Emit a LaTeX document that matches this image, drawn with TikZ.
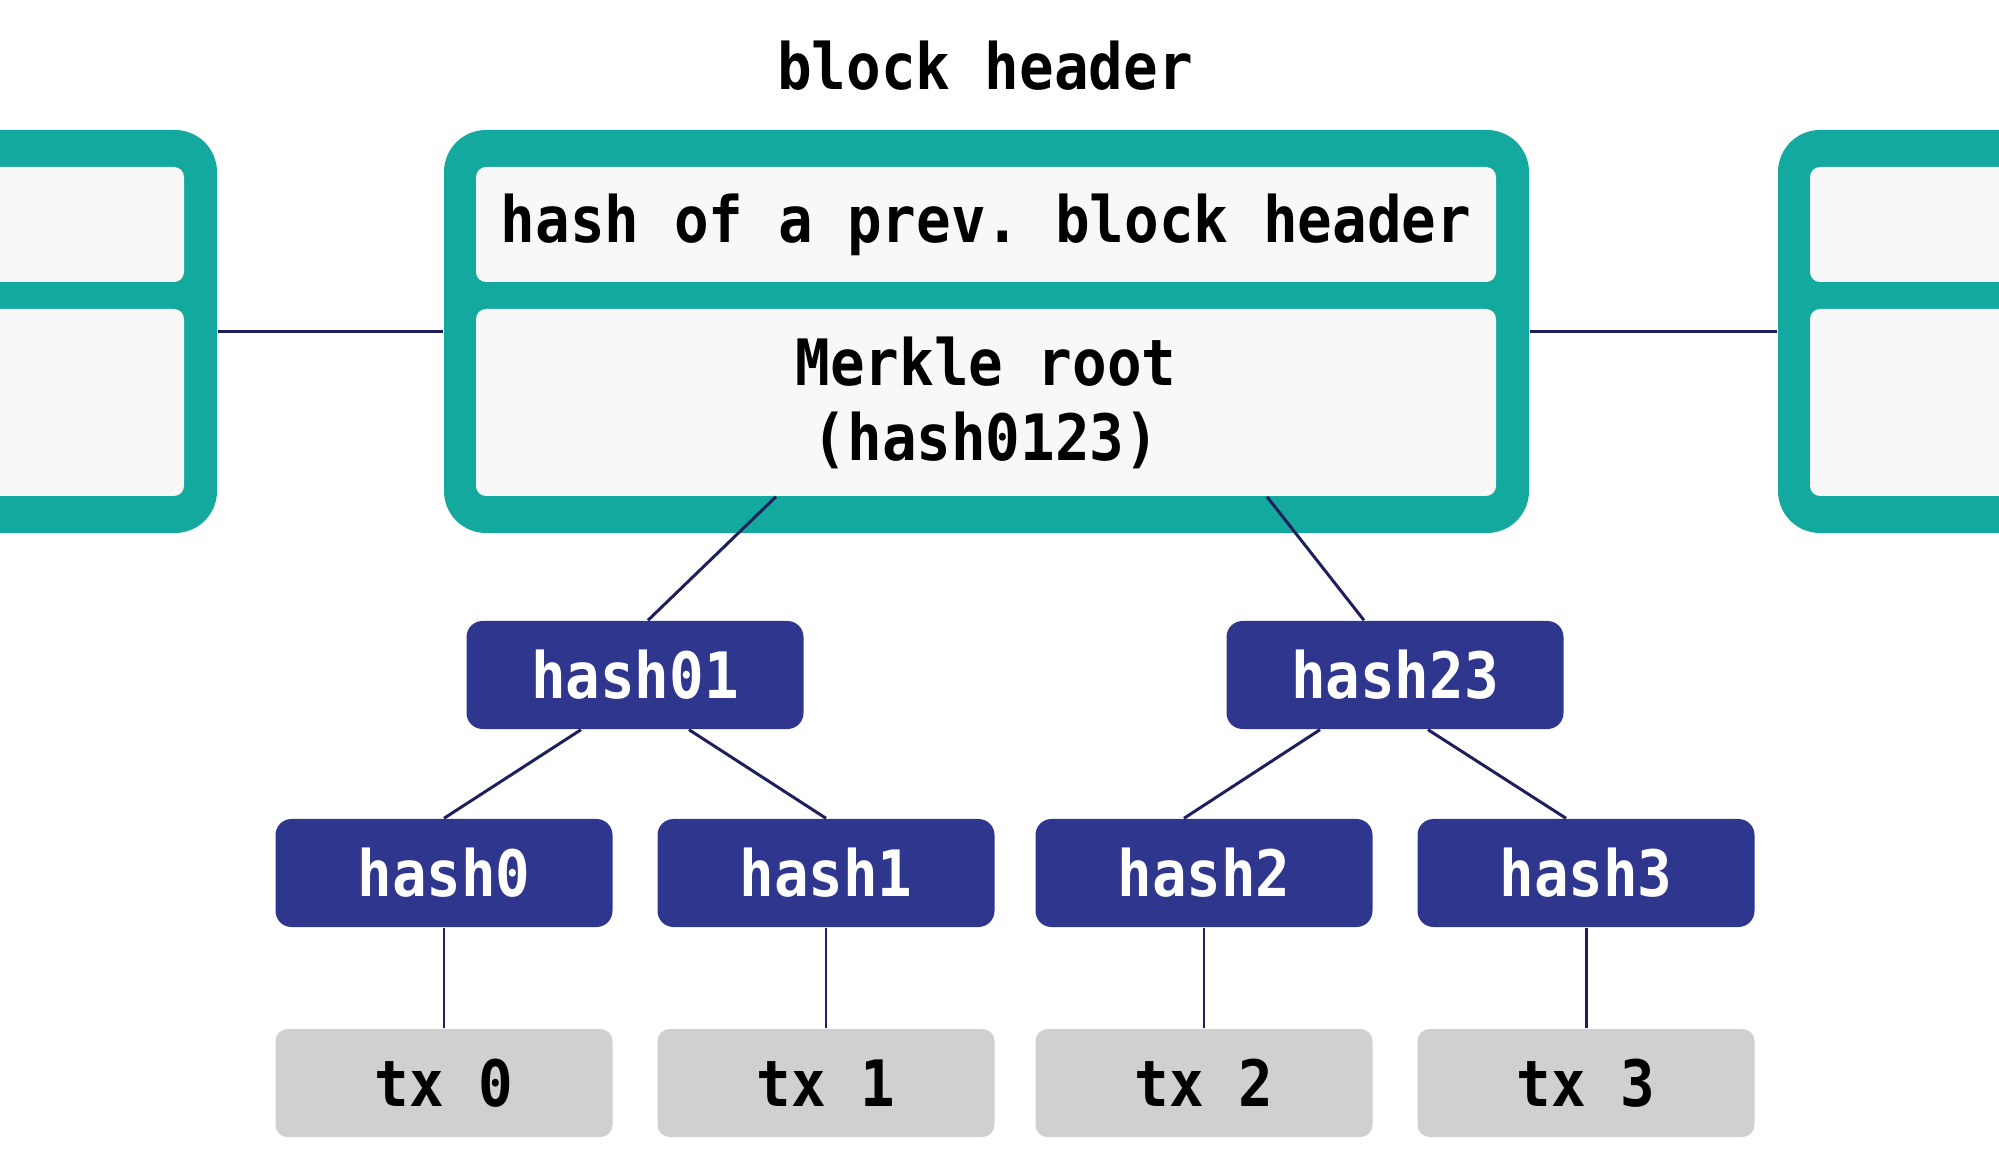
\documentclass[tikz,border=0pt]{standalone}
\usepackage{fontspec}
\setmonofont{DejaVu Sans Mono}[FakeStretch=0.9]
\definecolor{blockteal}{HTML}{13A99E}
\definecolor{hashblue}{HTML}{2E368E}
\definecolor{cellgrey}{HTML}{F8F8F8}
\definecolor{txgrey}{HTML}{D0D0D0}
\definecolor{edgenavy}{HTML}{1E205E}
\begin{document}
\begin{tikzpicture}
  [every node/.style={font=\ttfamily\bfseries\fontsize{18.2}{21.3}\selectfont,inner sep=0pt},
   outerbox/.style={fill=blockteal,rounded corners=0.42cm,minimum width=10.85cm,minimum height=4.03cm},
   cellbox/.style={fill=cellgrey,rounded corners=0.1cm,minimum width=10.2cm},
   hashbox/.style={fill=hashblue,text=white,rounded corners=0.16cm,minimum width=3.37cm,minimum height=1.08cm},
   txbox/.style={fill=txgrey,rounded corners=0.12cm,minimum width=3.37cm,minimum height=1.08cm},
   link/.style={draw=edgenavy,line width=0.85pt}]
  \useasboundingbox (0,0) rectangle (19.99,-11.75);
  \clip (0,0) rectangle (19.99,-11.75);

  % neighbouring blocks, cut by the page edge
  \foreach \nm/\dx in {lblk/-13.12,rblk/13.34} {
    \begin{scope}[xshift=\dx cm]
      \node (\nm) [outerbox] at (9.865,-3.315) {};
      \node [cellbox,minimum height=1.15cm] at (9.86,-2.245) {};
      \node [cellbox,minimum height=1.87cm] at (9.86,-4.025) {};
    \end{scope}
  }

  \node (title) at (9.85,-0.66) {block header};
  \node (hdr) [outerbox] at (9.865,-3.315) {};
  \node (prev) [cellbox,minimum height=1.15cm] at (9.86,-2.245) {hash of a prev. block header};
  \node (root) [cellbox,minimum height=1.87cm,align=center] at (9.86,-4.025) {Merkle root\\(hash0123)};

  \node (h01) [hashbox] at (6.35,-6.75)  {hash01};
  \node (h23) [hashbox] at (13.95,-6.75) {hash23};
  \node (h0) [hashbox] at (4.44,-8.73)  {hash0};
  \node (h1) [hashbox] at (8.26,-8.73)  {hash1};
  \node (h2) [hashbox] at (12.04,-8.73) {hash2};
  \node (h3) [hashbox] at (15.86,-8.73) {hash3};
  \node (tx0) [txbox] at (4.44,-10.83)  {tx 0};
  \node (tx1) [txbox] at (8.26,-10.83)  {tx 1};
  \node (tx2) [txbox] at (12.04,-10.83) {tx 2};
  \node (tx3) [txbox] at (15.86,-10.83) {tx 3};

  \draw[link] (lblk) -- (hdr);
  \draw[link] (hdr) -- (rblk);
  \draw[link] ([xshift=-2.10cm]root.south) -- ([xshift=0.13cm]h01.north);
  \draw[link] ([xshift=2.81cm]root.south) -- ([xshift=-0.31cm]h23.north);
  \draw[link] ([xshift=-0.54cm]h01.south) -- (h0.north);
  \draw[link] ([xshift=0.54cm]h01.south) -- (h1.north);
  \draw[link] ([xshift=-0.75cm]h23.south) -- ([xshift=-0.2cm]h2.north);
  \draw[link] ([xshift=0.33cm]h23.south) -- ([xshift=-0.2cm]h3.north);
  \foreach \from/\to in {h0/tx0,h1/tx1,h2/tx2,h3/tx3}
    \draw[link] (\from) -- (\to);

\end{tikzpicture}
\end{document}
